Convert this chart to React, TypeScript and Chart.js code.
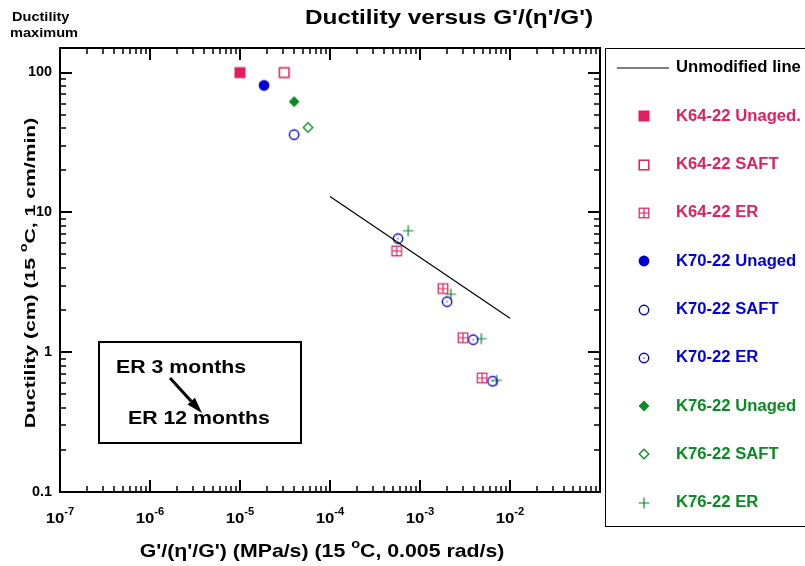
import React, { useEffect, useRef } from "react";
import { Chart, registerables } from "chart.js";

Chart.register(...registerables);

// ---- data -------------------------------------------------------------
const xTickExponents = [-7, -6, -5, -4, -3, -2];
const yTickValues = [0.1, 1, 10, 100];

const unmodifiedLineX = [1e-4, 1e-2];
const unmodifiedLineY = [13, 1.75];

const k64UnagedX = [1e-5];
const k64UnagedY = [100];
const k64SaftX = [3.1e-5];
const k64SaftY = [100];
const k64ErX = [5.5e-4, 1.8e-3, 3.0e-3, 4.9e-3];
const k64ErY = [5.3, 2.85, 1.27, 0.655];

const k70UnagedX = [1.85e-5];
const k70UnagedY = [81];
const k70SaftX = [4.0e-5];
const k70SaftY = [36];
const k70ErX = [5.7e-4, 2.0e-3, 3.9e-3, 6.4e-3];
const k70ErY = [6.5, 2.3, 1.23, 0.62];

const k76UnagedX = [4.0e-5];
const k76UnagedY = [62];
const k76SaftX = [5.7e-5];
const k76SaftY = [40.5];
const k76ErX = [7.4e-4, 2.2e-3, 4.8e-3, 7.1e-3];
const k76ErY = [7.4, 2.6, 1.25, 0.63];

// ---- styling ----------------------------------------------------------
const FONT = '"Liberation Sans", Arial, Helvetica, sans-serif';
const PINK = "#e01f5c";
const BLUE = "#0000d8";
const GREEN = "#0a8a22";
const SX = 1.12; // horizontal stretch of the lettering

type MarkerKind =
  | "squareFilled"
  | "squareOpen"
  | "squareGrid"
  | "circleFilled"
  | "circleOpen"
  | "circleDot"
  | "diamondFilled"
  | "diamondOpen"
  | "plus";

function makeMarker(kind: MarkerKind, color: string): HTMLCanvasElement {
  const c = document.createElement("canvas");
  c.width = 14;
  c.height = 14;
  const g = c.getContext("2d")!;
  g.fillStyle = color;
  g.strokeStyle = color;
  g.lineWidth = 1.3;
  const m = 7;
  switch (kind) {
    case "squareFilled":
      g.fillRect(1.5, 1.5, 11, 11);
      break;
    case "squareOpen":
      g.lineWidth = 1.5;
      g.strokeRect(2.2, 2.2, 9.6, 9.6);
      break;
    case "squareGrid":
      g.lineWidth = 1.2;
      g.strokeRect(2.2, 2.2, 9.6, 9.6);
      g.beginPath();
      g.moveTo(m, 2.2);
      g.lineTo(m, 11.8);
      g.moveTo(2.2, m);
      g.lineTo(11.8, m);
      g.stroke();
      break;
    case "circleFilled":
      g.beginPath();
      g.arc(m, m, 5.4, 0, Math.PI * 2);
      g.fill();
      break;
    case "circleOpen":
      g.lineWidth = 1.4;
      g.beginPath();
      g.arc(m, m, 4.7, 0, Math.PI * 2);
      g.stroke();
      break;
    case "circleDot":
      g.lineWidth = 1.4;
      g.beginPath();
      g.arc(m, m, 4.7, 0, Math.PI * 2);
      g.stroke();
      g.beginPath();
      g.arc(m, m, 0.7, 0, Math.PI * 2);
      g.fill();
      break;
    case "diamondFilled":
      g.beginPath();
      g.moveTo(m, 1.6);
      g.lineTo(12.4, m);
      g.lineTo(m, 12.4);
      g.lineTo(1.6, m);
      g.closePath();
      g.fill();
      break;
    case "diamondOpen":
      g.beginPath();
      g.moveTo(m, 2.2);
      g.lineTo(11.8, m);
      g.lineTo(m, 11.8);
      g.lineTo(2.2, m);
      g.closePath();
      g.stroke();
      break;
    case "plus":
      g.lineWidth = 1.2;
      g.beginPath();
      g.moveTo(1.6, m);
      g.lineTo(12.4, m);
      g.moveTo(m, 1.6);
      g.lineTo(m, 12.4);
      g.stroke();
      break;
  }
  return c;
}

type Seg = { t: string; sup?: boolean };

// Draws bold rich text (with superscripts) around (x, y).
function drawRich(
  ctx: CanvasRenderingContext2D,
  segs: Seg[],
  x: number,
  y: number,
  size: number,
  opts: { align?: "left" | "center" | "right"; sx?: number; rotate?: number; color?: string } = {}
) {
  const sx = opts.sx ?? SX;
  const supSize = Math.round(size * 0.68);
  const widths = segs.map((s) => {
    ctx.font = `bold ${s.sup ? supSize : size}px ${FONT}`;
    return ctx.measureText(s.t).width;
  });
  const total = widths.reduce((a, b) => a + b, 0);
  let start = 0;
  if ((opts.align ?? "center") === "center") start = -total / 2;
  else if (opts.align === "right") start = -total;
  ctx.save();
  ctx.translate(x, y);
  if (opts.rotate) ctx.rotate(opts.rotate);
  ctx.scale(sx, 1);
  ctx.fillStyle = opts.color ?? "#000";
  ctx.textBaseline = "middle";
  ctx.textAlign = "left";
  let cx = start;
  segs.forEach((s, i) => {
    ctx.font = `bold ${s.sup ? supSize : size}px ${FONT}`;
    ctx.fillText(s.t, cx, s.sup ? -size * 0.42 : 0);
    cx += widths[i];
  });
  ctx.restore();
}

const markers = {
  k64Unaged: () => makeMarker("squareFilled", PINK),
  k64Saft: () => makeMarker("squareOpen", PINK),
  k64Er: () => makeMarker("squareGrid", PINK),
  k70Unaged: () => makeMarker("circleFilled", BLUE),
  k70Saft: () => makeMarker("circleOpen", BLUE),
  k70Er: () => makeMarker("circleDot", BLUE),
  k76Unaged: () => makeMarker("diamondFilled", GREEN),
  k76Saft: () => makeMarker("diamondOpen", GREEN),
  k76Er: () => makeMarker("plus", GREEN),
};

const pts = (xs: number[], ys: number[]) => xs.map((x, i) => ({ x, y: ys[i] }));

export default function App() {
  const ref = useRef<HTMLCanvasElement | null>(null);

  useEffect(() => {
    const canvas = ref.current;
    if (!canvas) return;

    const series = [
      { label: "K64-22 Unaged.", color: PINK, style: markers.k64Unaged(), data: pts(k64UnagedX, k64UnagedY) },
      { label: "K64-22 SAFT", color: PINK, style: markers.k64Saft(), data: pts(k64SaftX, k64SaftY) },
      { label: "K64-22 ER", color: PINK, style: markers.k64Er(), data: pts(k64ErX, k64ErY) },
      { label: "K70-22 Unaged", color: BLUE, style: markers.k70Unaged(), data: pts(k70UnagedX, k70UnagedY) },
      { label: "K70-22 SAFT", color: BLUE, style: markers.k70Saft(), data: pts(k70SaftX, k70SaftY) },
      { label: "K70-22 ER", color: BLUE, style: markers.k70Er(), data: pts(k70ErX, k70ErY) },
      { label: "K76-22 Unaged", color: GREEN, style: markers.k76Unaged(), data: pts(k76UnagedX, k76UnagedY) },
      { label: "K76-22 SAFT", color: GREEN, style: markers.k76Saft(), data: pts(k76SaftX, k76SaftY) },
      { label: "K76-22 ER", color: GREEN, style: markers.k76Er(), data: pts(k76ErX, k76ErY) },
    ];

    const decorations = {
      id: "decorations",
      afterDraw(chart: any) {
        const ctx: CanvasRenderingContext2D = chart.ctx;
        const xs = chart.scales.x;
        const ys = chart.scales.y;
        const { left, right, top, bottom } = chart.chartArea;

        ctx.save();
        ctx.strokeStyle = "#000";
        ctx.lineCap = "butt";

        // x-axis ticks (bottom and mirrored on top)
        for (const e of xTickExponents) {
          for (let m = 1; m <= 9; m++) {
            const px = Math.round(xs.getPixelForValue(m * Math.pow(10, e)));
            const len = m === 1 ? 12 : 6;
            ctx.lineWidth = m === 1 ? 2 : 1.5;
            ctx.beginPath();
            ctx.moveTo(px, bottom);
            ctx.lineTo(px, bottom - len);
            ctx.moveTo(px, top);
            ctx.lineTo(px, top + len);
            ctx.stroke();
          }
        }
        // y-axis ticks (left and mirrored on right)
        for (const base of yTickValues) {
          for (let m = 1; m <= 9; m++) {
            const v = m * base;
            if (v > ys.max) break;
            const py = Math.round(ys.getPixelForValue(v));
            const len = m === 1 ? 12 : 6;
            ctx.lineWidth = m === 1 ? 2 : 1.5;
            ctx.beginPath();
            ctx.moveTo(left, py);
            ctx.lineTo(left + len, py);
            ctx.moveTo(right, py);
            ctx.lineTo(right - len, py);
            ctx.stroke();
          }
        }
        // frame
        ctx.lineWidth = 2;
        ctx.strokeRect(left, top, right - left, bottom - top);

        // tick labels
        for (const e of xTickExponents) {
          const px = xs.getPixelForValue(Math.pow(10, e));
          drawRich(ctx, [{ t: "10" }, { t: String(e), sup: true }], px, 519, 15);
        }
        for (const v of yTickValues) {
          const py = ys.getPixelForValue(v);
          drawRich(ctx, [{ t: String(v) }], 52, py, 14, { align: "right", sx: 1.03 });
        }

        // axis titles
        drawRich(
          ctx,
          [{ t: "G'/(η'/G') (MPa/s) (15 " }, { t: "o", sup: true }, { t: "C, 0.005 rad/s)" }],
          322,
          552,
          19
        );
        drawRich(
          ctx,
          [{ t: "Ductility (cm) (15 " }, { t: "o", sup: true }, { t: "C, 1 cm/min)" }],
          31,
          273,
          15,
          { rotate: -Math.PI / 2, sx: 1.41 }
        );

        // chart title and corner caption
        drawRich(ctx, [{ t: "Ductility versus G'/(η'/G')" }], 449, 18, 21, { sx: 1.16 });
        drawRich(ctx, [{ t: "Ductility" }], 12, 17, 13, { align: "left" });
        drawRich(ctx, [{ t: "maximum" }], 10, 33, 13, { align: "left" });

        // aging note box
        ctx.lineWidth = 2;
        ctx.strokeStyle = "#000";
        ctx.strokeRect(99, 342, 202, 101);
        drawRich(ctx, [{ t: "ER 3 months" }], 116, 368, 19, { align: "left" });
        drawRich(ctx, [{ t: "ER 12 months" }], 128, 419, 19, { align: "left" });
        {
          const x0 = 170, y0 = 378, x1 = 202, y1 = 413;
          const ang = Math.atan2(y1 - y0, x1 - x0);
          const headLen = 16, headW = 5;
          const bx = x1 - headLen * Math.cos(ang);
          const by = y1 - headLen * Math.sin(ang);
          ctx.lineWidth = 3;
          ctx.beginPath();
          ctx.moveTo(x0, y0);
          ctx.lineTo(bx, by);
          ctx.stroke();
          ctx.fillStyle = "#000";
          ctx.beginPath();
          ctx.moveTo(x1, y1);
          ctx.lineTo(bx + headW * Math.sin(ang), by - headW * Math.cos(ang));
          ctx.lineTo(bx - headW * Math.sin(ang), by + headW * Math.cos(ang));
          ctx.closePath();
          ctx.fill();
        }

        // legend
        ctx.lineWidth = 1;
        ctx.strokeStyle = "#000";
        ctx.strokeRect(605.5, 48.5, 240, 478);
        const rowY = (i: number) => 68 + i * 48.3;
        ctx.lineWidth = 1.2;
        ctx.beginPath();
        ctx.moveTo(617, rowY(0));
        ctx.lineTo(669, rowY(0));
        ctx.stroke();
        drawRich(ctx, [{ t: "Unmodified line" }], 676, rowY(0), 16, { align: "left", sx: 1.04 });
        series.forEach((s, i) => {
          const y = rowY(i + 1);
          ctx.drawImage(s.style, 644 - 7, Math.round(y) - 7);
          drawRich(ctx, [{ t: s.label }], 676, y, 16, { align: "left", sx: 1.04, color: s.color });
        });
        ctx.restore();
      },
    };

    const chart = new Chart(canvas, {
      type: "scatter",
      data: {
        datasets: [
          {
            label: "Unmodified line",
            data: pts(unmodifiedLineX, unmodifiedLineY),
            showLine: true,
            borderColor: "#000",
            borderWidth: 1.2,
            pointRadius: 0,
            fill: false,
          },
          ...series.map((s) => ({
            label: s.label,
            data: s.data,
            pointStyle: s.style,
            pointRadius: 5,
            borderWidth: 0,
            borderColor: s.color,
            backgroundColor: s.color,
          })),
        ],
      },
      options: {
        responsive: false,
        animation: false,
        events: [],
        layout: { padding: { left: 60, right: 205, top: 48, bottom: 74 } },
        scales: {
          x: { type: "logarithmic", min: 1e-7, max: 1e-1, display: false },
          y: { type: "logarithmic", min: 0.1, max: 150, display: false },
        },
        plugins: {
          legend: { display: false },
          tooltip: { enabled: false },
          title: { display: false },
        },
      } as any,
      plugins: [decorations],
    });

    return () => chart.destroy();
  }, []);

  return (
    <div style={{ position: "fixed", left: 0, top: 0, width: 805, height: 566, background: "#fff" }}>
      <canvas ref={ref} width={805} height={566} style={{ display: "block" }} />
    </div>
  );
}
